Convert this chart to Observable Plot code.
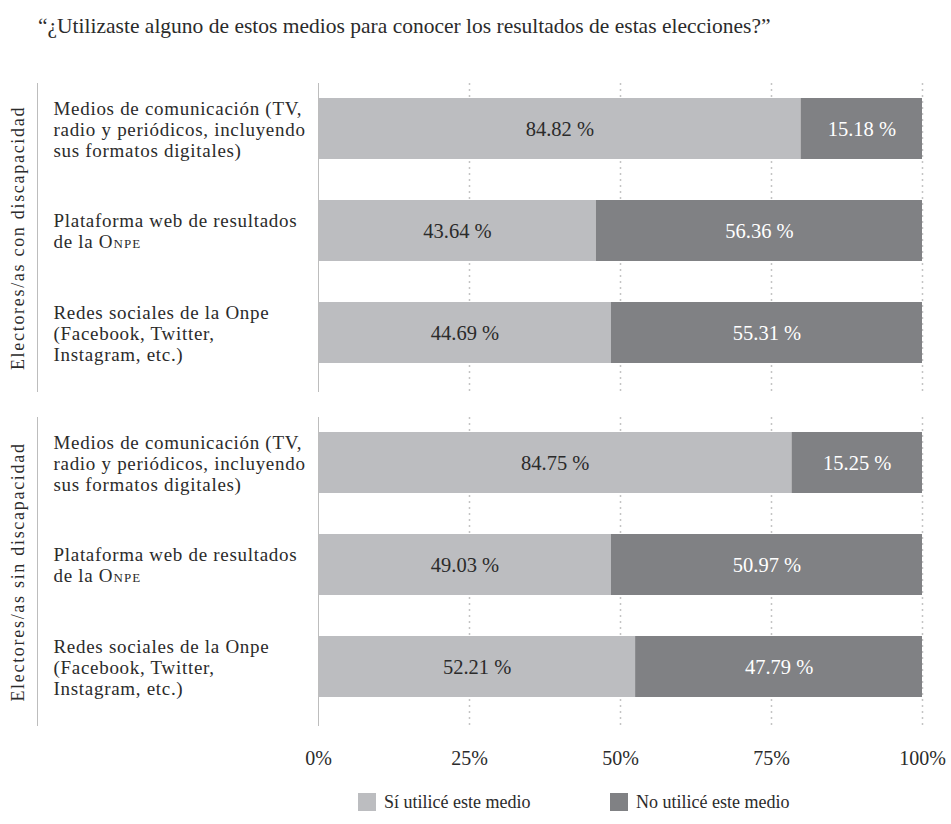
<!DOCTYPE html>
<html>
<head>
<meta charset="utf-8">
<script src="https://cdn.jsdelivr.net/npm/d3@7"></script>
<script src="https://cdn.jsdelivr.net/npm/@observablehq/plot@0.6"></script>
<style>
  body { margin: 0; background: #fff; font-family: "Liberation Serif", serif; color: #2b2b2b; }
  #title { height: 60px; box-sizing: border-box; padding: 14px 0 0 38px; font-size: 21.5px; line-height: 24px; }
  #legend { position: relative; height: 44px; font-size: 18px; }
  .sw { position: absolute; top: 13px; width: 18px; height: 18px; }
  .lt { position: absolute; top: 10px; line-height: 24px; }
  svg text { font-family: "Liberation Serif", serif; }
</style>
</head>
<body>
<div id="title">“¿Utilizaste alguno de estos medios para conocer los resultados de estas elecciones?”</div>
<div id="chart"></div>
<div id="legend"></div>
<script>
// ---- data ----
const grupos = ["Electores/as con discapacidad", "Electores/as sin discapacidad"];
const medios = [
  "Medios de comunicación (TV,\nradio y periódicos, incluyendo\nsus formatos digitales)",
  "Plataforma web de resultados\nde la Onpe",
  "Redes sociales de la Onpe\n(Facebook, Twitter,\nInstagram, etc.)"
];
// bar split (share "Sí") as drawn in the picture, per grupo x medio
const siBarCon = [79.9, 46.0, 48.5];
const siBarSin = [78.4, 48.5, 52.5];
// printed labels
const siLabelCon = ["84.82 %", "43.64 %", "44.69 %"];
const noLabelCon = ["15.18 %", "56.36 %", "55.31 %"];
const siLabelSin = ["84.75 %", "49.03 %", "52.21 %"];
const noLabelSin = ["15.25 %", "50.97 %", "47.79 %"];
const xTicks = [0, 25, 50, 75, 100];
const series = ["Sí utilicé este medio", "No utilicé este medio"];
const colors = ["#bcbdc0", "#808184"];

// ---- table ----
const rows = [];
[[siBarCon, siLabelCon, noLabelCon], [siBarSin, siLabelSin, noLabelSin]].forEach(([bars, sl, nl], g) => {
  medios.forEach((m, i) => rows.push({grupo: grupos[g], medio: m, si: bars[i], siLabel: sl[i], noLabel: nl[i]}));
});

const FS = 19;
const plot = Plot.plot({
  width: 951,
  height: 720,
  marginLeft: 318,
  marginRight: 29,
  marginTop: 23,
  marginBottom: 54,
  style: {fontFamily: "'Liberation Serif', serif", fontSize: FS + "px", color: "#2b2b2b", background: "#fff"},
  x: {domain: [0, 100], axis: null},
  y: {domain: medios, axis: null, paddingInner: 0.405, paddingOuter: 0, insetTop: 14, insetBottom: 29},
  fy: {domain: grupos, axis: null, paddingInner: 0.075, paddingOuter: 0},
  marks: [
    Plot.ruleX(xTicks.slice(1), {stroke: "#c4c4c4", strokeWidth: 1.5, strokeDasharray: "2,4"}),
    Plot.barX(rows, {fy: "grupo", y: "medio", x1: 0, x2: "si", fill: colors[0]}),
    Plot.barX(rows, {fy: "grupo", y: "medio", x1: "si", x2: 100, fill: colors[1]}),
    Plot.ruleX([0], {stroke: "#bdbdbd", strokeWidth: 1}),
    Plot.ruleX([0], {stroke: "#bdbdbd", strokeWidth: 1, dx: -281}),
    Plot.text(rows, {fy: "grupo", y: "medio", x: d => d.si / 2, text: "siLabel", fill: "#2b2b2b", fontSize: 20.5}),
    Plot.text(rows, {fy: "grupo", y: "medio", x: d => (d.si + 100) / 2, text: "noLabel", fill: "#ffffff", fontSize: 20.5}),
    Plot.text(rows, {fy: "grupo", y: "medio", text: "medio", frameAnchor: "left", textAnchor: "start", dx: -265, lineHeight: 1.11, fontSize: FS, fill: "#2b2b2b"}),
    Plot.text(grupos, {fy: d => d, text: d => d, frameAnchor: "left", textAnchor: "middle", rotate: -90, dx: -300, fontSize: 18, fill: "#2b2b2b"}),
    Plot.axisX({ticks: xTicks, tickFormat: d => d + "%", tickSize: 0, tickPadding: 24, label: null, fontSize: 20, fill: "#2b2b2b"})
  ]
});
document.getElementById("chart").appendChild(plot);

// category labels: slight tracking; small caps for "Onpe" in the platform label
plot.querySelectorAll("text").forEach(t => {
  if (medios.some(m => m.replace(/\n/g, "") === t.textContent)) t.style.letterSpacing = "0.7px";
  if (grupos.includes(t.textContent)) t.style.letterSpacing = "1.7px";
});
plot.querySelectorAll("tspan").forEach(t => {
  if (t.textContent === "de la Onpe") {
    t.textContent = "de la ";
    const sc = document.createElementNS("http://www.w3.org/2000/svg", "tspan");
    sc.setAttribute("style", "font-variant: small-caps; letter-spacing: 1px");
    sc.textContent = "Onpe";
    t.appendChild(sc);
  }
});

// legend
const lg = document.getElementById("legend");
const sx = [358, 610];
series.forEach((s, i) => {
  const sw = document.createElement("div");
  sw.className = "sw"; sw.style.left = sx[i] + "px"; sw.style.background = colors[i];
  const lt = document.createElement("div");
  lt.className = "lt"; lt.style.left = (sx[i] + 26) + "px"; lt.textContent = s;
  lg.appendChild(sw); lg.appendChild(lt);
});
</script>
</body>
</html>
